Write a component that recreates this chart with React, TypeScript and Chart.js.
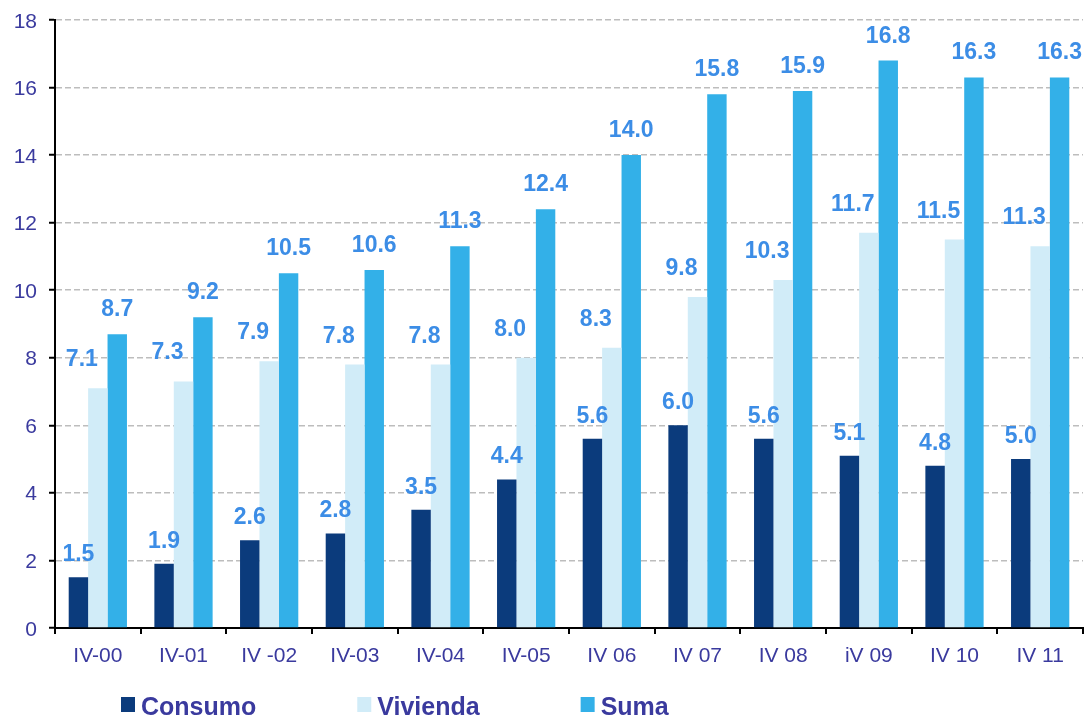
import React, { useEffect, useRef } from "react";
import { Chart, registerables } from "chart.js";

Chart.register(...registerables);

const categories = ["IV-00", "IV-01", "IV -02", "IV-03", "IV-04", "IV-05", "IV 06", "IV 07", "IV 08", "iV 09", "IV 10", "IV 11"];
const consumo = [1.5, 1.9, 2.6, 2.8, 3.5, 4.4, 5.6, 6.0, 5.6, 5.1, 4.8, 5.0];
const vivienda = [7.1, 7.3, 7.9, 7.8, 7.8, 8.0, 8.3, 9.8, 10.3, 11.7, 11.5, 11.3];
const suma = [8.7, 9.2, 10.5, 10.6, 11.3, 12.4, 14.0, 15.8, 15.9, 16.8, 16.3, 16.3];
const yTicks = [0, 2, 4, 6, 8, 10, 12, 14, 16, 18];
const seriesNames = ["Consumo", "Vivienda", "Suma"];
const seriesColors = ["#0b3b7c", "#d1ecf8", "#33b0e8"];

const SANS = '"Liberation Sans", Arial, sans-serif';
const AXIS_COLOR = "#3a3a9e";

const labelOffsets = [
  { dx: 0, gap: 16 },
  { dx: -16, gap: 22 },
  { dx: 0, gap: 18 },
];

const valueLabels = {
  id: "valueLabels",
  afterDatasetsDraw(chart: any) {
    const ctx = chart.ctx;
    ctx.save();
    ctx.font = `bold 23px ${SANS}`;
    ctx.fillStyle = "#3c8de6";
    ctx.textAlign = "center";
    ctx.textBaseline = "alphabetic";
    chart.data.datasets.forEach((ds: any, i: number) => {
      const meta = chart.getDatasetMeta(i);
      const off = labelOffsets[i];
      meta.data.forEach((bar: any, j: number) => {
        ctx.fillText(Number(ds.data[j]).toFixed(1), bar.x + off.dx, bar.y - off.gap);
      });
    });
    ctx.restore();
  },
};

const axisLabels = {
  id: "axisLabels",
  afterDraw(chart: any) {
    const ctx = chart.ctx;
    const xs = chart.scales.x;
    const ys = chart.scales.y;
    ctx.save();
    ctx.fillStyle = AXIS_COLOR;
    ctx.textBaseline = "alphabetic";
    ctx.font = `21px ${SANS}`;
    ctx.textAlign = "center";
    categories.forEach((c, i) => {
      ctx.fillText(c, xs.getPixelForValue(i), 662);
    });
    ctx.textAlign = "right";
    yTicks.forEach((v) => {
      ctx.fillText(String(v), 37, ys.getPixelForValue(v) + 7.5);
    });
    // legend
    ctx.font = `bold 25px ${SANS}`;
    ctx.textAlign = "left";
    let x = 121;
    chart.data.datasets.forEach((ds: any) => {
      ctx.fillStyle = ds.backgroundColor;
      ctx.fillRect(x, 697, 14, 15);
      ctx.fillStyle = AXIS_COLOR;
      const tx = x + 20;
      ctx.fillText(ds.label, tx, 715);
      x = tx + ctx.measureText(ds.label).width + 101;
    });
    ctx.restore();
  },
};

export default function App() {
  const ref = useRef<HTMLCanvasElement | null>(null);
  useEffect(() => {
    if (!ref.current) return;
    const seriesData = [consumo, vivienda, suma];
    const chart = new Chart(ref.current, {
      type: "bar",
      data: {
        labels: categories,
        datasets: seriesNames.map((name, i) => ({
          label: name,
          data: seriesData[i],
          backgroundColor: seriesColors[i],
          borderWidth: 0,
          categoryPercentage: 0.68,
          barPercentage: 1.0,
        })),
      },
      options: {
        responsive: false,
        animation: false,
        layout: { padding: { top: 20, right: 2, left: 0, bottom: 0 } },
        plugins: {
          legend: { display: false },
          tooltip: { enabled: false },
        },
        scales: {
          x: {
            afterFit(scale: any) {
              scale.height = 88;
            },
            grid: {
              drawOnChartArea: false,
              drawTicks: true,
              tickLength: 6,
              color: "#000",
              lineWidth: 2,
            },
            border: { color: "#000", width: 2 },
            ticks: {
              color: "rgba(0,0,0,0)",
              font: { family: SANS, size: 6 },
              padding: 6,
              maxRotation: 0,
              autoSkip: false,
            },
          },
          y: {
            min: 0,
            max: 18,
            afterFit(scale: any) {
              scale.width = 55;
            },
            grid: {
              color: (c: any) => (c.tick && c.tick.value === 0 ? "rgba(0,0,0,0)" : "#bdbdbd"),
              lineWidth: 1.5,
              tickColor: "#000",
              tickLength: 6,
              tickWidth: 2,
            },
            border: { color: "#000", width: 2, dash: [6, 3] },
            ticks: {
              stepSize: 2,
              color: "rgba(0,0,0,0)",
              font: { family: SANS, size: 6 },
              padding: 12,
            },
          },
        },
      },
      plugins: [valueLabels, axisLabels],
    });
    return () => chart.destroy();
  }, []);
  return (
    <div style={{ position: "absolute", left: 0, top: 0, width: 1085, height: 716, background: "#fff" }}>
      <canvas ref={ref} width={1085} height={716} />
    </div>
  );
}
